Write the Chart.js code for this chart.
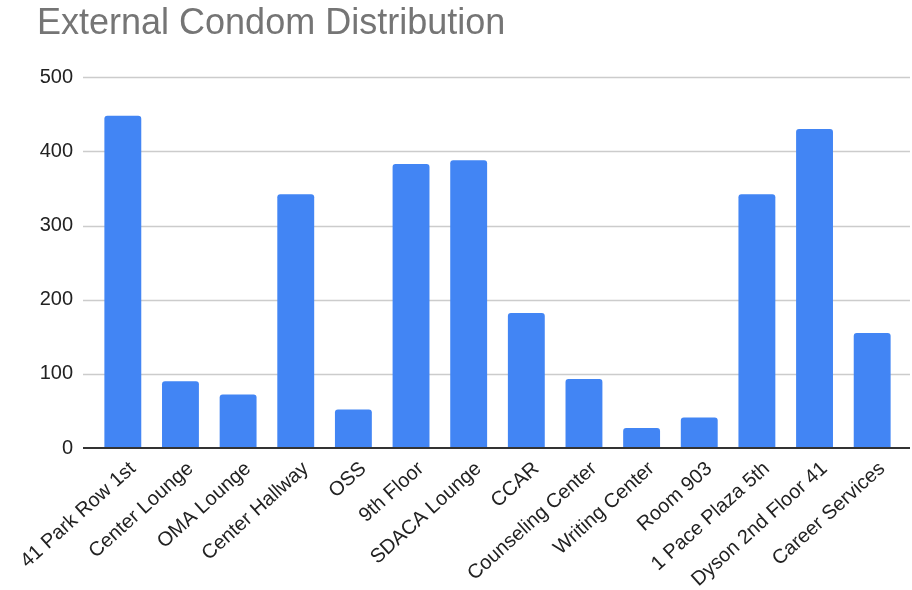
<!DOCTYPE html>
<html><head><meta charset="utf-8">
<script src="https://cdn.jsdelivr.net/npm/chart.js@4"></script>
<style>html,body{margin:0;padding:0;background:#fff}#wrap{width:912px;height:590px}</style>
</head><body><div id="wrap"><canvas id="c" width="912" height="590"></canvas></div>
<script>
const categories = ["41 Park Row 1st","Center Lounge","OMA Lounge","Center Hallway","OSS","9th Floor","SDACA Lounge","CCAR","Counseling Center","Writing Center","Room 903","1 Pace Plaza 5th","Dyson 2nd Floor 41","Career Services"];
const values = [448, 90, 72, 342, 52, 383, 388, 182, 93, 27, 41, 342, 430, 155];
const yTicks = [0, 100, 200, 300, 400, 500];
const titleText = "External Condom Distribution";

const gridPlugin = {
  id: 'extGrid',
  beforeDatasetsDraw(chart) {
    const ctx = chart.ctx, y = chart.scales.y;
    const x0 = 83, x1 = 910;
    ctx.save();
    yTicks.forEach(v => {
      if (v === 0) return;
      const py = Math.round(y.getPixelForValue(v)) + 0.5;
      ctx.beginPath();
      ctx.strokeStyle = '#cccccc';
      ctx.lineWidth = 1.3;
      ctx.moveTo(x0, py); ctx.lineTo(x1, py); ctx.stroke();
    });
    ctx.restore();
  },
  afterDatasetsDraw(chart) {
    const ctx = chart.ctx, y = chart.scales.y;
    const py = y.getPixelForValue(0);
    ctx.save();
    ctx.beginPath(); ctx.strokeStyle = '#333333'; ctx.lineWidth = 2;
    ctx.moveTo(83, py); ctx.lineTo(910, py); ctx.stroke();
    ctx.restore();
  }
};

new Chart(document.getElementById('c'), {
  type: 'bar',
  data: { labels: categories, datasets: [{ data: values, backgroundColor: '#4285F4', borderRadius: {topLeft:3, topRight:3}, borderSkipped: 'bottom', categoryPercentage: 1, barPercentage: 0.64 }] },
  options: {
    responsive: false, animation: false,
    layout: { padding: { left: 37, right: 11, top: 0, bottom: 0 } },
    plugins: {
      legend: { display: false }, tooltip: { enabled: false },
      title: { display: true, text: titleText, align: 'start', color: '#757575',
        font: { family: 'Liberation Sans, Arial, sans-serif', size: 36, weight: 'normal' },
        padding: { top: 2, bottom: 32 } }
    },
    scales: {
      x: {
        grid: { display: false, drawTicks: false }, border: { display: false },
        ticks: { color: '#222222', maxRotation: 42, minRotation: 42, autoSkip: false, padding: 9, labelOffset: 10,
          font: { family: 'Liberation Sans, Arial, sans-serif', size: 20 } },
        afterFit(s) { s.height = 142; }
      },
      y: {
        min: 0, max: 500,
        grid: { display: false, drawTicks: false }, border: { display: false },
        ticks: { stepSize: 100, color: '#222222', padding: 21,
          font: { family: 'Liberation Sans, Arial, sans-serif', size: 20 } },
        afterFit(s) { s.width = 57; }
      }
    }
  },
  plugins: [gridPlugin]
});
</script></body></html>
